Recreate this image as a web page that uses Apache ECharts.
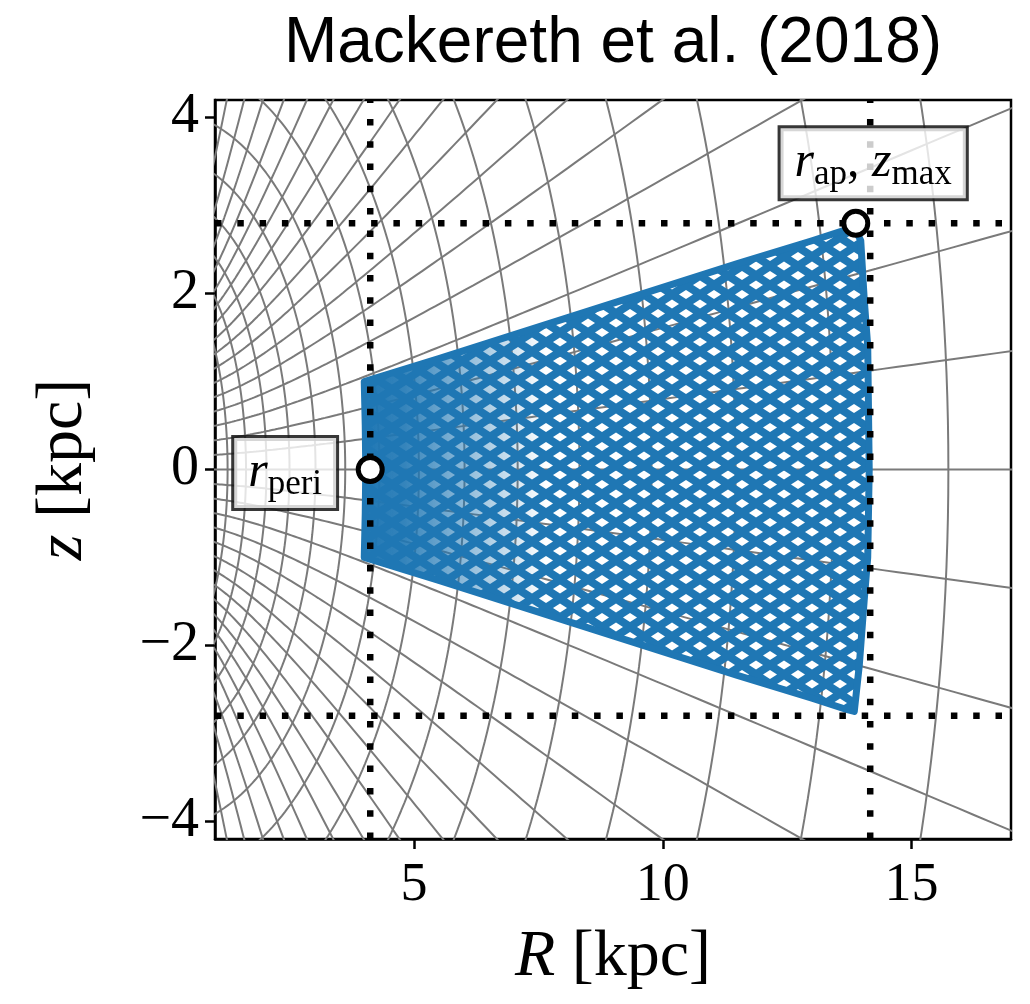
<!DOCTYPE html>
<html>
<head>
<meta charset="utf-8">
<title>Mackereth et al. (2018)</title>
<script src="https://cdn.jsdelivr.net/npm/echarts@6/dist/echarts.min.js"></script>
<style>
  html, body { margin: 0; padding: 0; background: #fff; }
  #chart { width: 1030px; height: 1004px; }
</style>
</head>
<body>
<div id="chart"></div>
<script>
// axis ranges and ticks
const xRange = [1, 17];
const zRange = [-4.2, 4.2];
const xTicks = [5, 10, 15];
const zTicks = [-4, -2, 0, 2, 4];

// orbit envelope (R, z), clockwise from the top-left corner
const orbitR = [4.00, 5.50, 7.00, 8.50, 10.00, 11.50, 13.00, 13.65, 13.85, 13.98, 14.05, 14.12, 14.15, 14.12, 14.05, 13.95, 13.85, 13.65, 13.00, 11.50, 10.00, 8.50, 7.00, 5.50, 4.00, 4.02, 4.03, 4.02];
const orbitZ = [1.00, 1.26, 1.53, 1.80, 2.07, 2.34, 2.60, 2.72, 2.76, 2.60, 1.93, 1.40, 0.00, -1.00, -1.48, -2.23, -2.75, -2.72, -2.60, -2.34, -2.07, -1.80, -1.53, -1.26, -1.00, -0.50, 0.00, 0.50];

// pericentre, apocentre / zmax
const periPoint = [4.12, 0.0];
const apoPoint = [13.88, 2.80];
const rPeri = 4.12;
const rAp = 14.17;
const zMax = 2.80;

// where the two annotation boxes sit
const periLabelAt = [2.41, -0.04];
const apoLabelAt = [14.23, 3.48];

// prolate spheroidal coordinate grid: focal distance and the u / v levels drawn
const focalDelta = 1.87;
const gridU = [0.157, 0.314, 0.471, 0.628, 0.785, 0.942, 1.100, 1.257, 1.414, 1.571, 1.728, 1.885, 2.042, 2.199, 2.356, 2.513, 2.670, 2.827];
const gridV = [0.0785, 0.1571, 0.2356, 0.3142, 0.3927, 0.4712, 0.5498, 0.6283, 0.7069, 0.7854, 0.8639, 0.9425, 1.0210, 1.0996, 1.1781, 1.2566, 1.3352, 1.4137, 1.4923, 1.5708, 1.6493, 1.7279, 1.8064, 1.8850, 1.9635, 2.0420, 2.1206, 2.1991, 2.2777, 2.3562, 2.4347, 2.5133, 2.5918, 2.6704, 2.7489, 2.8274, 2.9060, 2.9845, 3.0631];

const serif = 'Liberation Serif';
const blue = '#1f77b4';

// (u, v) -> (R, z)
function toRz(u, v) {
  return [focalDelta * Math.sinh(u) * Math.sin(v), focalDelta * Math.cosh(u) * Math.cos(v)];
}

// lines of constant u are ellipses, constant v hyperbolae; '-' breaks the line
const ellipseData = [];
gridU.forEach(u => {
  for (let i = 0; i <= 180; i++) ellipseData.push(toRz(u, Math.PI * i / 180));
  ellipseData.push(['-', '-']);
});
const hyperbolaData = [];
gridV.forEach(v => {
  for (let i = 0; i <= 160; i++) hyperbolaData.push(toRz(3.3 * i / 160, v));
  hyperbolaData.push(['-', '-']);
});

// blue mesh of crossing strands: see-through diamonds at the cell centre and corners
function meshPattern(w, h, a, b) {
  const c = document.createElement('canvas');
  c.width = w; c.height = h;
  const g = c.getContext('2d');
  g.fillStyle = blue;
  g.fillRect(0, 0, w, h);
  g.globalCompositeOperation = 'destination-out';
  [[w / 2, h / 2], [0, 0], [w, 0], [0, h], [w, h]].forEach(([cx, cy]) => {
    g.beginPath();
    g.moveTo(cx - a, cy);
    g.lineTo(cx, cy - b);
    g.lineTo(cx + a, cy);
    g.lineTo(cx, cy + b);
    g.closePath();
    g.fill();
  });
  return { image: c, repeat: 'repeat' };
}

const chart = echarts.init(document.getElementById('chart'));

const gridLine = { color: '#7a7a7a', width: 2 };
const dotted = { color: '#000', width: 6.5, type: [6.5, 15.8], cap: 'butt' };
const nameStyle = {
  fontFamily: serif, fontSize: 66, color: '#000',
  rich: { i: { fontFamily: serif, fontStyle: 'italic', fontSize: 66, color: '#000' } }
};
const boxText = { fontFamily: serif, color: '#000', textBorderWidth: 0 };

const option = {
  animation: false,
  title: {
    text: 'Mackereth et al. (2018)',
    left: 608,
    top: 7,
    textAlign: 'center',
    textStyle: { fontFamily: 'Liberation Sans', fontSize: 64, fontWeight: 'normal', color: '#000' }
  },
  grid: {
    left: 215, right: 19, top: 100, bottom: 165,
    show: true, borderColor: '#000', borderWidth: 2.5, backgroundColor: 'transparent'
  },
  xAxis: {
    type: 'value',
    min: xRange[0], max: xRange[1],
    name: '{i|R} [kpc]',
    nameLocation: 'middle',
    nameGap: 86,
    nameTextStyle: nameStyle,
    axisLine: { show: true, onZero: false, lineStyle: { color: '#000', width: 2.5 } },
    axisTick: { show: true, length: 10, lineStyle: { color: '#000', width: 2.5 }, customValues: xTicks },
    axisLabel: { customValues: xTicks, fontFamily: serif, fontSize: 54, color: '#000', margin: 20 },
    splitLine: { show: false }
  },
  yAxis: {
    type: 'value',
    min: zRange[0], max: zRange[1],
    name: '{i|z} [kpc]',
    nameLocation: 'middle',
    nameGap: 118,
    nameRotate: 90,
    nameTextStyle: nameStyle,
    axisLine: { show: true, onZero: false, lineStyle: { color: '#000', width: 2.5 } },
    axisTick: { show: true, length: 10, lineStyle: { color: '#000', width: 2.5 }, customValues: zTicks },
    axisLabel: { customValues: zTicks, fontFamily: serif, fontSize: 56, color: '#000', margin: 16, formatter: v => String(v).replace('-', '\u2212') },
    splitLine: { show: false }
  },
  series: [
    {
      type: 'line', name: 'u grid', data: ellipseData, z: 1, silent: true,
      symbol: 'none', clip: true, lineStyle: gridLine
    },
    {
      type: 'line', name: 'v grid', data: hyperbolaData, z: 1, silent: true,
      symbol: 'none', clip: true, lineStyle: gridLine
    },
    {
      type: 'custom', name: 'orbit', z: 2, silent: true, clip: true,
      data: [0],
      renderItem: (params, api) => {
        const pts = orbitR.map((r, i) => api.coord([r, orbitZ[i]]));
        return {
          type: 'group',
          children: [
            { type: 'polygon', shape: { points: pts }, style: { fill: meshPattern(28, 19, 7, 4.6), stroke: blue, lineWidth: 7, lineJoin: 'round' } },
            {
              type: 'polygon', shape: { points: pts },
              style: {
                fill: new echarts.graphic.LinearGradient(0, 0, 1, 0, [
                  { offset: 0, color: 'rgba(31,119,180,1)' },
                  { offset: 0.08, color: 'rgba(31,119,180,0.9)' },
                  { offset: 0.2, color: 'rgba(31,119,180,0.5)' },
                  { offset: 0.36, color: 'rgba(31,119,180,0)' },
                  { offset: 1, color: 'rgba(31,119,180,0)' }
                ])
              }
            }
          ]
        };
      }
    },
    { type: 'line', name: 'r_peri', z: 3, silent: true, symbol: 'none', lineStyle: dotted, data: [[rPeri, zRange[0]], [rPeri, zRange[1]]] },
    { type: 'line', name: 'r_ap', z: 3, silent: true, symbol: 'none', lineStyle: dotted, data: [[rAp, zRange[0]], [rAp, zRange[1]]] },
    { type: 'line', name: 'z_max', z: 3, silent: true, symbol: 'none', lineStyle: dotted, data: [[xRange[0], zMax], [xRange[1], zMax]] },
    { type: 'line', name: '-z_max', z: 3, silent: true, symbol: 'none', lineStyle: dotted, data: [[xRange[0], -zMax], [xRange[1], -zMax]] },
    {
      type: 'scatter', name: 'turning points', z: 4, silent: true,
      symbol: 'circle', symbolSize: 24,
      itemStyle: { color: '#fff', borderColor: '#000', borderWidth: 5, opacity: 1 },
      data: [periPoint, apoPoint]
    },
    {
      type: 'scatter', name: 'labels', z: 5, silent: true,
      symbolSize: 0,
      itemStyle: { color: '#000', opacity: 1 },
      label: {
        show: true,
        position: 'inside',
        backgroundColor: 'rgba(255,255,255,0.8)',
        borderColor: 'rgba(20,20,20,0.85)',
        borderWidth: 3,
        padding: [6, 14, 6, 14],
        color: '#000',
        opacity: 1,
        textBorderWidth: 0,
        rich: {
          i: Object.assign({ fontStyle: 'italic', fontSize: 50, lineHeight: 58, verticalAlign: 'middle' }, boxText),
          s: Object.assign({ fontSize: 35, lineHeight: 36, verticalAlign: 'bottom' }, boxText),
          n: Object.assign({ fontSize: 50, lineHeight: 58, verticalAlign: 'middle' }, boxText)
        }
      },
      data: [
        { value: periLabelAt, label: { formatter: '{i|r}{s|peri}' } },
        { value: apoLabelAt, label: { formatter: '{i|r}{s|ap}{n|, }{i|z}{s|max}' } }
      ]
    }
  ]
};

chart.setOption(option);
</script>
</body>
</html>
